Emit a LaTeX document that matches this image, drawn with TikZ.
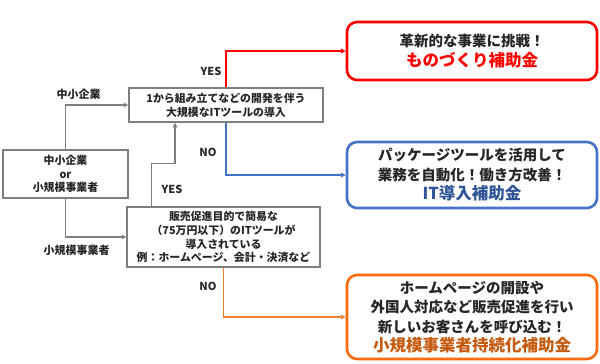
\documentclass[tikz,border=0pt]{standalone}
\usepackage{fontspec}
\setmainfont{Noto Sans CJK JP}
\usetikzlibrary{arrows.meta}
\definecolor{boxgray}{HTML}{7F7F7F}
\definecolor{textdark}{HTML}{262626}
\definecolor{hojored}{HTML}{FF0000}
\definecolor{hojoblue}{HTML}{4472C4}
\definecolor{hojoblueText}{HTML}{2F5597}
\definecolor{hojoorange}{HTML}{FF6A0D}
\definecolor{hojoorangeLine}{HTML}{ED7D31}
\definecolor{hojoorangeText}{HTML}{C55A11}
\tikzset{
  question/.style={
    draw = boxgray,
    line width = 1.5pt,
    align = center,
    inner sep = 0pt,
    text = textdark,
    font = \bfseries\fontsize{10.9}{13.8}\selectfont
  },
  result/.style={
    line width = 2.6pt,
    rounded corners = 10pt,
    align = center,
    inner sep = 0pt,
    text = textdark,
    minimum width = 250pt,
    font = \bfseries\fontsize{14.5}{19.5}\selectfont
  },
  branch/.style={
    text = textdark,
    font = \bfseries\fontsize{11}{13}\selectfont
  },
  flow/.style={
    line width = 1.5pt,
    -{Triangle[length=4.5pt,width=4.5pt]}
  }
}

\begin{document}
\begin{tikzpicture}[x=1pt,y=-1pt]
  \useasboundingbox (0,0) rectangle (600,364);
  % decision boxes
  \node[question,minimum width=125pt,minimum height=48pt] (start) at (65.5,174)
    {中小企業\\or\\小規模事業者};
  \node[question,minimum width=194pt,minimum height=34pt] (big) at (226,105)
    {1から組み立てなどの開発を伴う\\大規模なITツールの導入};
  \node[question,minimum width=193pt,minimum height=60pt] (small) at (223.5,237)
    {販売促進目的で簡易な\\（75万円以下）のITツールが\\導入されている\\例：ホームページ、会計・決済など};
  % subsidies
  \node[result,draw=hojored,minimum height=58pt] (mono) at (472,51)
    {革新的な事業に挑戦！\\{\color{hojored}\bfseries\fontsize{16.5}{19.5}\selectfont ものづくり補助金}};
  \node[result,draw=hojoblue,minimum height=66pt] (it) at (472,175)
    {パッケージツールを活用して\\業務を自動化！働き方改善！\\{\color{hojoblueText}\bfseries\fontsize{16.5}{19.5}\selectfont IT導入補助金}};
  \node[result,draw=hojoorange,minimum height=84pt] (jizoku) at (472,317)
    {ホームページの開設や\\外国人対応など販売促進を行い\\新しいお客さんを呼び込む！\\{\color{hojoorangeText}\bfseries\fontsize{16.5}{19.5}\selectfont 小規模事業者持続化補助金}};
  % connectors
  \draw[flow,boxgray] (start.north) |- (big.west);
  \draw[flow,boxgray] (start.south) |- (small.west);
  \draw[flow,boxgray] ([xshift=25pt]small.north west) -- ++(0,-43) -| ([xshift=-51pt]big.south);
  \draw[flow,hojored] (big.north) |- (mono.west);
  \draw[flow,hojoblue] (big.south) |- (it.west);
  \draw[flow,hojoorangeLine] (small.south) |- (jizoku.west);
  % branch labels
  \node[branch] (lchu) at (78.5,94) {中小企業};
  \node[branch] (lsho) at (76.5,250) {小規模事業者};
  \node[branch] (yes1) at (172,189) {YES};
  \node[branch] (yes2) at (211,71) {YES};
  \node[branch] (no1) at (208,152) {NO};
  \node[branch] (no2) at (208,286) {NO};
\end{tikzpicture}
\end{document}
